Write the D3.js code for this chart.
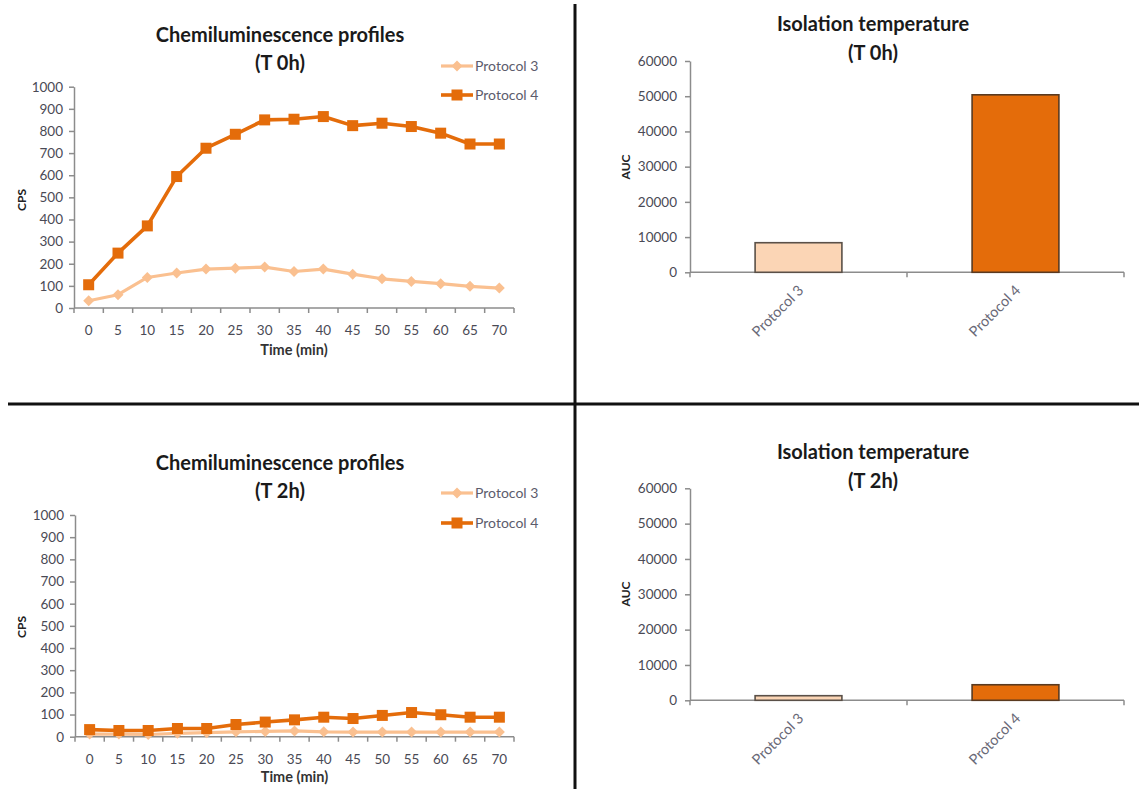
<!DOCTYPE html>
<html>
<head>
<meta charset="utf-8">
<script src="https://cdn.jsdelivr.net/npm/d3@7"></script>
<style>
  html, body { margin: 0; padding: 0; background: #fff; }
  svg { display: block; }
  text { font-family: Lato, "Open Sans", sans-serif; }
</style>
</head>
<body>
<svg id="chart" width="1139" height="789"></svg>
<script>
// ---------- DATA ----------
const times = ["0","5","10","15","20","25","30","35","40","45","50","55","60","65","70"];
const seriesNames = ["Protocol 3", "Protocol 4"];

const cps_T0_protocol3 = [33, 60, 138, 158, 176, 180, 185, 165, 176, 153, 132, 120, 110, 98, 90];
const cps_T0_protocol4 = [105, 248, 371, 594, 722, 785, 850, 853, 865, 824, 835, 820, 790, 741, 741];
const cps_T2_protocol3 = [12, 12, 10, 15, 18, 22, 24, 26, 22, 21, 21, 21, 21, 21, 21];
const cps_T2_protocol4 = [32, 28, 28, 37, 37, 55, 66, 76, 88, 82, 96, 109, 99, 88, 88];

const protocols = ["Protocol 3", "Protocol 4"];
const auc_T0 = [8400, 50400];
const auc_T2 = [1300, 4400];

const cpsTicks = [0, 100, 200, 300, 400, 500, 600, 700, 800, 900, 1000];
const aucTicks = [0, 10000, 20000, 30000, 40000, 50000, 60000];

const titlesLine = ["Chemiluminescence profiles", "(T 0h)", "(T 2h)"];
const titlesBar = ["Isolation temperature", "(T 0h)", "(T 2h)"];

// ---------- STYLE ----------
const C_P3 = "#FAC090";
const C_P4 = "#E46C0A";
const BAR_P3 = "#FBD5B5";
const BAR_P4 = "#E46C0A";
const AXIS = "#8c8c8c";
const TICKTXT = "#4a4a55";
const TITLE = "#1a1a1a";
const TITLE_SIZE = "20px";

const svg = d3.select("#chart");

// dividers
svg.append("line").attr("x1", 575).attr("x2", 575).attr("y1", 4).attr("y2", 789)
  .attr("stroke", "#111").attr("stroke-width", 3);
svg.append("line").attr("x1", 8).attr("x2", 1139).attr("y1", 404).attr("y2", 404)
  .attr("stroke", "#111").attr("stroke-width", 3);

function styleAxis(g) {
  g.selectAll("path.domain").attr("stroke", AXIS).attr("stroke-width", 1.5);
  g.selectAll(".tick line").attr("stroke", AXIS).attr("stroke-width", 1.5);
  g.selectAll(".tick text").attr("fill", TICKTXT).style("font-size", "13.5px");
}

function diamond(sel, cx, cy, r) {
  return sel.append("path")
    .attr("d", `M${cx},${cy - r}L${cx + r},${cy}L${cx},${cy + r}L${cx - r},${cy}Z`);
}

function drawLineChart(o) {
  const x = d3.scaleBand().domain(times).range([o.x0, o.x1]).padding(0);
  const y = d3.scaleLinear().domain([0, 1000]).range([o.y0, o.y1]);

  const ya = svg.append("g").attr("transform", `translate(${o.x0},0)`)
    .call(d3.axisLeft(y).tickValues(cpsTicks).tickFormat(d3.format("d"))
      .tickSize(5).tickPadding(6).tickSizeOuter(0));
  styleAxis(ya);

  const xa = svg.append("g").attr("transform", `translate(0,${o.y0})`);
  xa.append("line").attr("x1", o.x0).attr("x2", o.x1).attr("y1", 0).attr("y2", 0)
    .attr("stroke", AXIS).attr("stroke-width", 1.5);
  const bounds = times.map(t => x(t)).concat([x(times[times.length - 1]) + x.bandwidth()]);
  xa.selectAll("line.tk").data(bounds).enter().append("line").attr("class", "tk")
    .attr("x1", d => d).attr("x2", d => d).attr("y1", 0).attr("y2", 5)
    .attr("stroke", AXIS).attr("stroke-width", 1.5);
  xa.selectAll("text.lb").data(times).enter().append("text").attr("class", "lb")
    .attr("x", d => x(d) + x.bandwidth() / 2).attr("y", 27)
    .attr("text-anchor", "middle").attr("fill", TICKTXT).style("font-size", "13.5px")
    .text(d => d);

  const cx = d => x(d) + x.bandwidth() / 2;
  const line = d3.line().x((d, i) => cx(times[i])).y(d => y(d));

  svg.append("path").datum(o.p3).attr("d", line).attr("fill", "none")
    .attr("stroke", C_P3).attr("stroke-width", 3.2).attr("stroke-linejoin", "round");
  const g3 = svg.append("g").attr("fill", C_P3);
  o.p3.forEach((v, i) => diamond(g3, cx(times[i]), y(v), 5.5));

  svg.append("path").datum(o.p4).attr("d", line).attr("fill", "none")
    .attr("stroke", C_P4).attr("stroke-width", 3.6).attr("stroke-linejoin", "round");
  svg.append("g").attr("fill", C_P4).selectAll("rect").data(o.p4).enter().append("rect")
    .attr("x", (d, i) => cx(times[i]) - 5.5).attr("y", d => y(d) - 5.5)
    .attr("width", 11).attr("height", 11);

  svg.append("text").attr("x", o.tx).attr("y", o.t1y).attr("text-anchor", "middle")
    .attr("fill", TITLE).style("font-size", TITLE_SIZE).style("font-weight", "bold").text(titlesLine[0]);
  svg.append("text").attr("x", o.tx).attr("y", o.t2y).attr("text-anchor", "middle")
    .attr("fill", TITLE).style("font-size", TITLE_SIZE).style("font-weight", "bold").text(o.sub);

  svg.append("text").attr("transform", `translate(${o.ylx},${o.yly}) rotate(-90)`)
    .attr("text-anchor", "middle").attr("fill", "#222").style("font-size", "12px")
    .style("font-weight", "bold").text("CPS");
  svg.append("text").attr("x", (o.x0 + o.x1) / 2).attr("y", o.xty).attr("text-anchor", "middle")
    .attr("fill", "#333").style("font-size", "14.5px").style("font-weight", "bold").text("Time (min)");

  const lg = svg.append("g");
  seriesNames.forEach((n, i) => {
    const ly = o.legY[i];
    lg.append("line").attr("x1", 441).attr("x2", 473).attr("y1", ly).attr("y2", ly)
      .attr("stroke", i === 0 ? C_P3 : C_P4).attr("stroke-width", i === 0 ? 3.2 : 3.6);
    if (i === 0) { diamond(lg, 457, ly, 5.5).attr("fill", C_P3); }
    else { lg.append("rect").attr("x", 451.5).attr("y", ly - 5.5).attr("width", 11).attr("height", 11).attr("fill", C_P4); }
    lg.append("text").attr("x", 475).attr("y", ly + 5).attr("fill", "#5c5c6c")
      .style("font-size", "14px").text(n);
  });
}

function drawBarChart(o) {
  const x = d3.scaleBand().domain(protocols).range([o.x0, o.x1]).padding(0);
  const y = d3.scaleLinear().domain([0, 60000]).range([o.y0, o.y1]);

  const ya = svg.append("g").attr("transform", `translate(${o.x0},0)`)
    .call(d3.axisLeft(y).tickValues(aucTicks).tickFormat(d3.format("d"))
      .tickSize(5).tickPadding(8).tickSizeOuter(0));
  styleAxis(ya);

  const xa = svg.append("g").attr("transform", `translate(0,${o.y0})`);
  xa.append("line").attr("x1", o.x0).attr("x2", o.x1).attr("y1", 0).attr("y2", 0)
    .attr("stroke", AXIS).attr("stroke-width", 1.5);
  const bounds = protocols.map(p => x(p)).concat([o.x1]);
  xa.selectAll("line.tk").data(bounds).enter().append("line").attr("class", "tk")
    .attr("x1", d => d).attr("x2", d => d).attr("y1", 0).attr("y2", 5)
    .attr("stroke", AXIS).attr("stroke-width", 1.5);
  xa.selectAll("text.lb").data(protocols).enter().append("text").attr("class", "lb")
    .attr("transform", d => `translate(${x(d) + x.bandwidth() / 2 + 6},${19}) rotate(-45)`)
    .attr("text-anchor", "end").attr("fill", "#6a6a78").style("font-size", "14.5px")
    .text(d => d);

  const bw = x.bandwidth() * 0.4;
  svg.append("g").selectAll("rect").data(o.vals).enter().append("rect")
    .attr("x", (d, i) => x(protocols[i]) + x.bandwidth() / 2 - bw / 2)
    .attr("y", d => y(d))
    .attr("width", bw)
    .attr("height", d => o.y0 - y(d))
    .attr("fill", (d, i) => i === 0 ? BAR_P3 : BAR_P4)
    .attr("stroke", (d, i) => i === 0 ? "#5a5048" : "#5a3a20")
    .attr("stroke-width", 1.6);

  svg.append("text").attr("x", o.tx).attr("y", o.t1y).attr("text-anchor", "middle")
    .attr("fill", TITLE).style("font-size", TITLE_SIZE).style("font-weight", "bold").text(titlesBar[0]);
  svg.append("text").attr("x", o.tx).attr("y", o.t2y).attr("text-anchor", "middle")
    .attr("fill", TITLE).style("font-size", TITLE_SIZE).style("font-weight", "bold").text(o.sub);

  svg.append("text").attr("transform", `translate(${o.ylx},${o.yly}) rotate(-90)`)
    .attr("text-anchor", "middle").attr("fill", "#222").style("font-size", "12px")
    .style("font-weight", "bold").text("AUC");
}

drawLineChart({ x0: 74, x1: 514, y0: 308, y1: 86.7, p3: cps_T0_protocol3, p4: cps_T0_protocol4,
  tx: 280, t1y: 42, t2y: 70, sub: titlesLine[1], ylx: 26, yly: 200, xty: 355, legY: [66, 95] });
drawLineChart({ x0: 75, x1: 514, y0: 736.7, y1: 515, p3: cps_T2_protocol3, p4: cps_T2_protocol4,
  tx: 280, t1y: 470, t2y: 498, sub: titlesLine[2], ylx: 26, yly: 627, xty: 782, legY: [493, 523] });

drawBarChart({ x0: 690, x1: 1124, y0: 272.3, y1: 61, vals: auc_T0,
  tx: 873, t1y: 31, t2y: 60, sub: titlesBar[1], ylx: 630, yly: 167 });
drawBarChart({ x0: 690, x1: 1124, y0: 700.3, y1: 488.3, vals: auc_T2,
  tx: 873, t1y: 459, t2y: 488, sub: titlesBar[2], ylx: 630, yly: 594 });
</script>
</body>
</html>
